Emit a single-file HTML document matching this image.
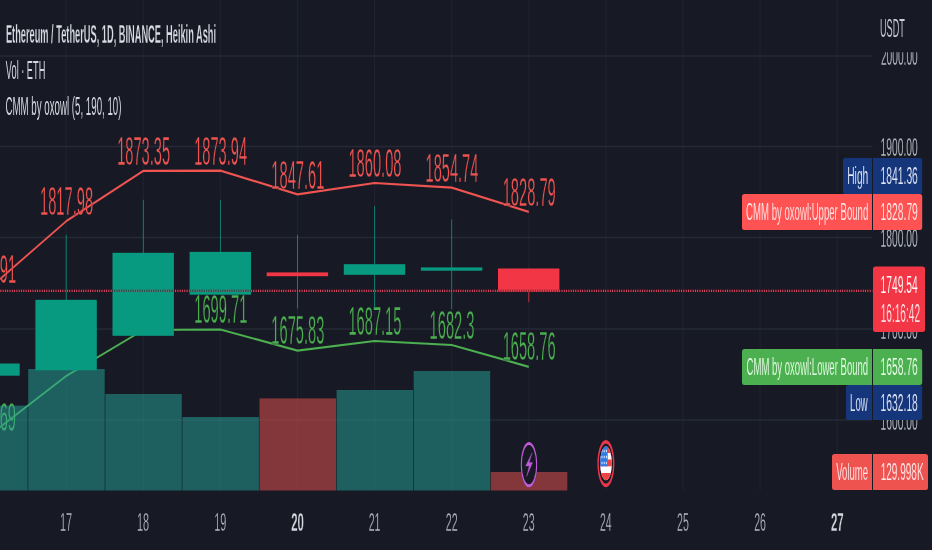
<!DOCTYPE html>
<html lang="en">
<head>
<meta charset="utf-8">
<title>Ethereum / TetherUS chart</title>
<style>
html,body{margin:0;padding:0;background:#171a25;overflow:hidden;}
body{width:932px;height:550px;font-family:"Liberation Sans", sans-serif;}
svg{display:block;font-family:"Liberation Sans", sans-serif;will-change:transform;}
svg text{font-family:"Liberation Sans", sans-serif;}
</style>
</head>
<body>
<svg width="932" height="550" viewBox="0 0 932 550">
<rect x="0" y="0" width="932" height="550" fill="#171a25"/>
<g id="grid">
<line x1="66.20" y1="0" x2="66.20" y2="490.5" stroke="#1f222e" stroke-width="1.3"/>
<line x1="143.30" y1="0" x2="143.30" y2="490.5" stroke="#1f222e" stroke-width="1.3"/>
<line x1="220.40" y1="0" x2="220.40" y2="490.5" stroke="#1f222e" stroke-width="1.3"/>
<line x1="297.50" y1="0" x2="297.50" y2="490.5" stroke="#1f222e" stroke-width="1.3"/>
<line x1="374.60" y1="0" x2="374.60" y2="490.5" stroke="#1f222e" stroke-width="1.3"/>
<line x1="451.70" y1="0" x2="451.70" y2="490.5" stroke="#1f222e" stroke-width="1.3"/>
<line x1="528.80" y1="0" x2="528.80" y2="490.5" stroke="#1f222e" stroke-width="1.3"/>
<line x1="605.90" y1="0" x2="605.90" y2="490.5" stroke="#1f222e" stroke-width="1.3"/>
<line x1="683.00" y1="0" x2="683.00" y2="490.5" stroke="#1f222e" stroke-width="1.3"/>
<line x1="760.10" y1="0" x2="760.10" y2="490.5" stroke="#1f222e" stroke-width="1.3"/>
<line x1="837.20" y1="0" x2="837.20" y2="490.5" stroke="#1f222e" stroke-width="1.3"/>
<line x1="0" y1="56" x2="872.5" y2="56" stroke="#262a36" stroke-width="1.7"/>
<line x1="0" y1="146.5" x2="872.5" y2="146.5" stroke="#262a36" stroke-width="1.7"/>
<line x1="0" y1="237.5" x2="872.5" y2="237.5" stroke="#262a36" stroke-width="1.7"/>
<line x1="0" y1="329" x2="872.5" y2="329" stroke="#262a36" stroke-width="1.7"/>
<line x1="0" y1="420" x2="872.5" y2="420" stroke="#262a36" stroke-width="1.7"/>
</g>
<g id="indicator">
<g transform="scale(1,2.2)"><polyline points="-10.90,131.136 66.20,100.545 143.30,77.682 220.40,77.545 297.50,88.318 374.60,83.182 451.70,85.273 528.80,96.273" fill="none" stroke="#ef5451" stroke-width="1.02" stroke-linejoin="round" stroke-linecap="butt"/></g>
<g transform="scale(1,2.2)"><polyline points="-10.90,197.955 66.20,170.909 143.30,150.000 220.40,149.773 297.50,159.364 374.60,155.000 451.70,156.818 528.80,166.727" fill="none" stroke="#4caf50" stroke-width="1.0" stroke-linejoin="round" stroke-linecap="butt"/></g>
<text transform="translate(-37.07,282.70) scale(0.3662,1)" font-size="40.14" fill="#ef5451" font-weight="normal" stroke="#171a25" stroke-width="0.28" vector-effect="non-scaling-stroke">1803.91</text>
<text transform="translate(40.03,215.40) scale(0.3656,1)" font-size="40.14" fill="#ef5451" font-weight="normal" stroke="#171a25" stroke-width="0.28" vector-effect="non-scaling-stroke">1817.98</text>
<text transform="translate(117.13,165.10) scale(0.3655,1)" font-size="40.14" fill="#ef5451" font-weight="normal" stroke="#171a25" stroke-width="0.28" vector-effect="non-scaling-stroke">1873.35</text>
<text transform="translate(194.24,164.80) scale(0.3641,1)" font-size="40.14" fill="#ef5451" font-weight="normal" stroke="#171a25" stroke-width="0.28" vector-effect="non-scaling-stroke">1873.94</text>
<text transform="translate(271.33,188.50) scale(0.3662,1)" font-size="40.14" fill="#ef5451" font-weight="normal" stroke="#171a25" stroke-width="0.28" vector-effect="non-scaling-stroke">1847.61</text>
<text transform="translate(348.43,177.20) scale(0.3656,1)" font-size="40.14" fill="#ef5451" font-weight="normal" stroke="#171a25" stroke-width="0.28" vector-effect="non-scaling-stroke">1860.08</text>
<text transform="translate(425.54,181.80) scale(0.3641,1)" font-size="40.14" fill="#ef5451" font-weight="normal" stroke="#171a25" stroke-width="0.28" vector-effect="non-scaling-stroke">1854.74</text>
<text transform="translate(502.63,206.00) scale(0.3660,1)" font-size="40.14" fill="#ef5451" font-weight="normal" stroke="#171a25" stroke-width="0.28" vector-effect="non-scaling-stroke">1828.79</text>
<text transform="translate(-37.07,430.60) scale(0.3660,1)" font-size="40.14" fill="#4caf50" font-weight="normal" stroke="#171a25" stroke-width="0.28" vector-effect="non-scaling-stroke">1640.69</text>
<text transform="translate(40.03,369.60) scale(0.3660,1)" font-size="40.14" fill="#4caf50" font-weight="normal" stroke="#171a25" stroke-width="0.28" vector-effect="non-scaling-stroke">1665.79</text>
<text transform="translate(117.13,323.60) scale(0.3657,1)" font-size="40.14" fill="#4caf50" font-weight="normal" stroke="#171a25" stroke-width="0.28" vector-effect="non-scaling-stroke">1698.93</text>
<text transform="translate(194.23,323.10) scale(0.3662,1)" font-size="40.14" fill="#4caf50" font-weight="normal" stroke="#171a25" stroke-width="0.28" vector-effect="non-scaling-stroke">1699.71</text>
<text transform="translate(271.33,344.20) scale(0.3657,1)" font-size="40.14" fill="#4caf50" font-weight="normal" stroke="#171a25" stroke-width="0.28" vector-effect="non-scaling-stroke">1675.83</text>
<text transform="translate(348.43,334.60) scale(0.3655,1)" font-size="40.14" fill="#4caf50" font-weight="normal" stroke="#171a25" stroke-width="0.28" vector-effect="non-scaling-stroke">1687.15</text>
<text transform="translate(429.58,338.60) scale(0.3662,1)" font-size="40.14" fill="#4caf50" font-weight="normal" stroke="#171a25" stroke-width="0.28" vector-effect="non-scaling-stroke">1682.3</text>
<text transform="translate(502.63,360.40) scale(0.3657,1)" font-size="40.14" fill="#4caf50" font-weight="normal" stroke="#171a25" stroke-width="0.28" vector-effect="non-scaling-stroke">1658.76</text>
</g>
<g id="volume" opacity="1">
<rect x="-48.90" y="405.60" width="76.50" height="84.90" fill="rgba(38,166,154,0.5)"/>
<rect x="28.20" y="369.00" width="76.50" height="121.50" fill="rgba(38,166,154,0.5)"/>
<rect x="105.30" y="394.00" width="76.50" height="96.50" fill="rgba(38,166,154,0.5)"/>
<rect x="182.40" y="417.00" width="76.50" height="73.50" fill="rgba(38,166,154,0.5)"/>
<rect x="259.50" y="398.40" width="76.50" height="92.10" fill="rgba(239,83,80,0.5)"/>
<rect x="336.60" y="390.00" width="76.50" height="100.50" fill="rgba(38,166,154,0.5)"/>
<rect x="413.70" y="371.00" width="76.50" height="119.50" fill="rgba(38,166,154,0.5)"/>
<rect x="490.80" y="472.00" width="76.50" height="18.50" fill="rgba(239,83,80,0.5)"/>
</g>
<g opacity="1"><rect x="0" y="289.7" width="872.5" height="2.3" fill="#3e0d1c"/>
<line x1="0.4" y1="290.8" x2="872.5" y2="290.8" stroke="#ee5d73" stroke-width="2.2" stroke-dasharray="0.8 1.5"/></g>
<g id="candles">
<rect x="-11.35" y="363.50" width="0.90" height="12.20" fill="#089981" opacity="0.85"/>
<rect x="-41.70" y="363.50" width="61.40" height="12.20" fill="#089981"/>
<rect x="65.75" y="234.70" width="0.90" height="65.30" fill="#089981" opacity="0.85"/>
<rect x="35.40" y="299.80" width="61.40" height="70.50" fill="#089981"/>
<rect x="142.85" y="199.80" width="0.90" height="53.20" fill="#089981" opacity="0.85"/>
<rect x="112.50" y="252.80" width="61.40" height="83.00" fill="#089981"/>
<rect x="219.95" y="199.80" width="0.90" height="52.20" fill="#089981" opacity="0.85"/>
<rect x="189.60" y="251.90" width="61.40" height="42.80" fill="#089981"/>
<rect x="297.05" y="234.70" width="0.90" height="73.80" fill="#f23645" opacity="0.85"/>
<rect x="266.70" y="272.40" width="61.40" height="3.80" fill="#f23645"/>
<rect x="374.15" y="206.00" width="0.90" height="102.50" fill="#089981" opacity="0.85"/>
<rect x="343.80" y="264.20" width="61.40" height="10.60" fill="#089981"/>
<rect x="451.25" y="219.40" width="0.90" height="89.80" fill="#089981" opacity="0.85"/>
<rect x="420.90" y="267.40" width="61.40" height="3.30" fill="#089981"/>
<rect x="528.35" y="268.50" width="0.90" height="33.70" fill="#f23645" opacity="0.85"/>
<rect x="498.00" y="268.50" width="61.40" height="23.40" fill="#f23645"/>
</g>
<g opacity="0.45"><rect x="0" y="289.7" width="872.5" height="2.3" fill="#3e0d1c"/>
<line x1="0.4" y1="290.8" x2="872.5" y2="290.8" stroke="#ee5d73" stroke-width="2.2" stroke-dasharray="0.8 1.5"/></g>
<g transform="translate(529,464.7) scale(0.820,2.260)"><circle r="10" fill="#171a25"/><circle r="9.35" fill="none" stroke="#c05ad8" stroke-width="1.3"/></g>
<path d="M532.1 452.8 L525.6 466.0 L529.2 466.0 L526.6 476.6 L532.6 462.6 L529.2 462.6 Z" fill="#c05ad8" stroke="#c05ad8" stroke-width="0.3" stroke-linejoin="round"/>
<g transform="translate(605.9,463.6) scale(0.850,2.370)"><circle r="10" fill="#171a25"/><circle r="9.2" fill="none" stroke="#e8374a" stroke-width="1.6"/></g>
<clipPath id="fc"><ellipse cx="606" cy="463.4" rx="5.9" ry="16.8"/></clipPath>
<g clip-path="url(#fc)">
<rect x="599.00" y="446.00" width="14.00" height="35.00" fill="#ffffff"/>
<rect x="599.00" y="446.00" width="14.00" height="7.00" fill="#ef4444"/>
<rect x="599.00" y="459.50" width="14.00" height="6.80" fill="#ef4444"/>
<rect x="599.00" y="473.00" width="14.00" height="8.00" fill="#ef4444"/>
<rect x="599.00" y="446.00" width="8.70" height="20.30" fill="#2f7be6"/>
<rect x="601.50" y="449.80" width="1.00" height="2.40" fill="#dbe8ff"/>
<rect x="603.70" y="449.80" width="1.00" height="2.40" fill="#dbe8ff"/>
<rect x="605.90" y="449.80" width="1.00" height="2.40" fill="#dbe8ff"/>
<rect x="601.50" y="455.80" width="1.00" height="2.40" fill="#dbe8ff"/>
<rect x="603.70" y="455.80" width="1.00" height="2.40" fill="#dbe8ff"/>
<rect x="605.90" y="455.80" width="1.00" height="2.40" fill="#dbe8ff"/>
<rect x="601.50" y="461.80" width="1.00" height="2.40" fill="#dbe8ff"/>
<rect x="603.70" y="461.80" width="1.00" height="2.40" fill="#dbe8ff"/>
<rect x="605.90" y="461.80" width="1.00" height="2.40" fill="#dbe8ff"/>
</g>
<text transform="translate(5.88,42.80) scale(0.3522,1)" font-size="26.29" fill="#dadde4" font-weight="bold" stroke="#171a25" stroke-width="0.22" vector-effect="non-scaling-stroke">Ethereum / TetherUS, 1D, BINANCE, Heikin Ashi</text>
<text transform="translate(5.86,78.70) scale(0.3589,1)" font-size="25.71" fill="#d3d6de" font-weight="normal">Vol · ETH</text>
<text transform="translate(5.41,115.00) scale(0.3740,1)" font-size="26.00" fill="#d3d6de" font-weight="normal">CMM by oxowl (5, 190, 10)</text>
<rect x="872.5" y="0" width="59.5" height="550" fill="#171a25"/>
<clipPath id="c2000"><rect x="873" y="52.3" width="59" height="40"/></clipPath>
<g clip-path="url(#c2000)"><text transform="translate(880.89,65.30) scale(0.3971,1)" font-size="25.71" fill="#bdc0c9" font-weight="normal" stroke="#171a25" stroke-width="0.2" vector-effect="non-scaling-stroke">2000.00</text></g>
<text transform="translate(880.62,156.30) scale(0.4000,1)" font-size="25.71" fill="#bdc0c9" font-weight="normal" stroke="#171a25" stroke-width="0.2" vector-effect="non-scaling-stroke">1900.00</text>
<text transform="translate(880.62,247.30) scale(0.4000,1)" font-size="25.71" fill="#bdc0c9" font-weight="normal" stroke="#171a25" stroke-width="0.2" vector-effect="non-scaling-stroke">1800.00</text>
<text transform="translate(880.62,338.80) scale(0.4000,1)" font-size="25.71" fill="#bdc0c9" font-weight="normal" stroke="#171a25" stroke-width="0.2" vector-effect="non-scaling-stroke">1700.00</text>
<text transform="translate(880.62,429.80) scale(0.4000,1)" font-size="25.71" fill="#bdc0c9" font-weight="normal" stroke="#171a25" stroke-width="0.2" vector-effect="non-scaling-stroke">1600.00</text>
<text transform="translate(879.99,36.80) scale(0.3599,1)" font-size="25.43" fill="#cdd0d8" font-weight="normal" stroke="#171a25" stroke-width="0.15" vector-effect="non-scaling-stroke">USDT</text>
<path d="M845.5 158 H872 V194 H845.5 Q843 194 843 191.5 V160.5 Q843 158 845.5 158 Z" fill="#16367c"/>
<text transform="translate(847.15,183.60) scale(0.4174,1)" font-size="24.71" fill="#e3e9f7" font-weight="normal" stroke="#16367c" stroke-width="0.12" vector-effect="non-scaling-stroke">High</text>
<path d="M873 158 H919.7 Q922.2 158 922.2 160.5 V191.5 Q922.2 194 919.7 194 H873 Z" fill="#16367c"/>
<text transform="translate(880.62,183.60) scale(0.4192,1)" font-size="24.57" fill="#e3e9f7" font-weight="normal" stroke="#16367c" stroke-width="0.12" vector-effect="non-scaling-stroke">1841.36</text>
<path d="M744.5 194 H872 V230 H744.5 Q742 230 742 227.5 V196.5 Q742 194 744.5 194 Z" fill="#ff5252"/>
<text transform="translate(746.11,219.60) scale(0.3885,1)" font-size="24.71" fill="#ffe9e9" font-weight="normal" stroke="#ff5252" stroke-width="0.12" vector-effect="non-scaling-stroke">CMM by oxowl:Upper Bound</text>
<path d="M873 194 H919.7 Q922.2 194 922.2 196.5 V227.5 Q922.2 230 919.7 230 H873 Z" fill="#ff5252"/>
<text transform="translate(880.61,219.60) scale(0.4196,1)" font-size="24.57" fill="#ffe9e9" font-weight="normal" stroke="#ff5252" stroke-width="0.12" vector-effect="non-scaling-stroke">1828.79</text>
<path d="M744.5 349 H872 V385 H744.5 Q742 385 742 382.5 V351.5 Q742 349 744.5 349 Z" fill="#4caf50"/>
<text transform="translate(746.51,374.60) scale(0.3872,1)" font-size="24.71" fill="#eaffea" font-weight="normal" stroke="#4caf50" stroke-width="0.12" vector-effect="non-scaling-stroke">CMM by oxowl:Lower Bound</text>
<path d="M873 349 H919.7 Q922.2 349 922.2 351.5 V382.5 Q922.2 385 919.7 385 H873 Z" fill="#4caf50"/>
<text transform="translate(880.62,374.60) scale(0.4192,1)" font-size="24.57" fill="#eaffea" font-weight="normal" stroke="#4caf50" stroke-width="0.12" vector-effect="non-scaling-stroke">1658.76</text>
<path d="M848.5 385 H872 V420 H848.5 Q846 420 846 417.5 V387.5 Q846 385 848.5 385 Z" fill="#16367c"/>
<text transform="translate(850.11,410.60) scale(0.3873,1)" font-size="24.71" fill="#e3e9f7" font-weight="normal" stroke="#16367c" stroke-width="0.12" vector-effect="non-scaling-stroke">Low</text>
<path d="M873 385 H919.7 Q922.2 385 922.2 387.5 V417.5 Q922.2 420 919.7 420 H873 Z" fill="#16367c"/>
<text transform="translate(880.62,410.60) scale(0.4192,1)" font-size="24.57" fill="#e3e9f7" font-weight="normal" stroke="#16367c" stroke-width="0.12" vector-effect="non-scaling-stroke">1632.18</text>
<path d="M834.5 454 H872 V490 H834.5 Q832 490 832 487.5 V456.5 Q832 454 834.5 454 Z" fill="#ef5350"/>
<text transform="translate(836.26,479.60) scale(0.3866,1)" font-size="24.71" fill="#ffe9e9" font-weight="normal" stroke="#ef5350" stroke-width="0.12" vector-effect="non-scaling-stroke">Volume</text>
<path d="M873 454 H925.5 Q928 454 928 456.5 V487.5 Q928 490 925.5 490 H873 Z" fill="#ef5350"/>
<text transform="translate(880.64,479.60) scale(0.4085,1)" font-size="24.57" fill="#ffe9e9" font-weight="normal" stroke="#ef5350" stroke-width="0.12" vector-effect="non-scaling-stroke">129.998K</text>
<rect x="873" y="266.4" width="52" height="65.6" rx="2.5" fill="#f23645"/>
<text transform="translate(880.62,292.60) scale(0.4175,1)" font-size="24.57" fill="#ffffff" font-weight="normal" stroke="#f23645" stroke-width="0.15" vector-effect="non-scaling-stroke">1749.54</text>
<text transform="translate(880.63,322.00) scale(0.4080,1)" font-size="24.86" fill="#ffe3e5" font-weight="normal" stroke="#f23645" stroke-width="0.15" vector-effect="non-scaling-stroke">16:16:42</text>
<text transform="translate(59.97,531.00) scale(0.4123,1)" font-size="26.57" fill="#b9bcc5" font-weight="normal" stroke="#171a25" stroke-width="0.28" vector-effect="non-scaling-stroke">17</text>
<text transform="translate(137.07,531.00) scale(0.4094,1)" font-size="26.57" fill="#b9bcc5" font-weight="normal" stroke="#171a25" stroke-width="0.28" vector-effect="non-scaling-stroke">18</text>
<text transform="translate(214.17,531.00) scale(0.4111,1)" font-size="26.57" fill="#b9bcc5" font-weight="normal" stroke="#171a25" stroke-width="0.28" vector-effect="non-scaling-stroke">19</text>
<text transform="translate(291.21,531.00) scale(0.4284,1)" font-size="26.57" fill="#d5d8df" font-weight="bold" stroke="#171a25" stroke-width="0.28" vector-effect="non-scaling-stroke">20</text>
<text transform="translate(368.66,531.00) scale(0.4011,1)" font-size="26.57" fill="#b9bcc5" font-weight="normal" stroke="#171a25" stroke-width="0.28" vector-effect="non-scaling-stroke">21</text>
<text transform="translate(445.76,531.00) scale(0.4017,1)" font-size="26.57" fill="#b9bcc5" font-weight="normal" stroke="#171a25" stroke-width="0.28" vector-effect="non-scaling-stroke">22</text>
<text transform="translate(522.87,531.00) scale(0.3992,1)" font-size="26.57" fill="#b9bcc5" font-weight="normal" stroke="#171a25" stroke-width="0.28" vector-effect="non-scaling-stroke">23</text>
<text transform="translate(599.97,531.00) scale(0.3936,1)" font-size="26.57" fill="#b9bcc5" font-weight="normal" stroke="#171a25" stroke-width="0.28" vector-effect="non-scaling-stroke">24</text>
<text transform="translate(677.07,531.00) scale(0.3985,1)" font-size="26.57" fill="#b9bcc5" font-weight="normal" stroke="#171a25" stroke-width="0.28" vector-effect="non-scaling-stroke">25</text>
<text transform="translate(754.17,531.00) scale(0.3992,1)" font-size="26.57" fill="#b9bcc5" font-weight="normal" stroke="#171a25" stroke-width="0.28" vector-effect="non-scaling-stroke">26</text>
<text transform="translate(830.90,531.00) scale(0.4296,1)" font-size="26.57" fill="#d5d8df" font-weight="bold" stroke="#171a25" stroke-width="0.28" vector-effect="non-scaling-stroke">27</text>
</svg>
</body>
</html>
